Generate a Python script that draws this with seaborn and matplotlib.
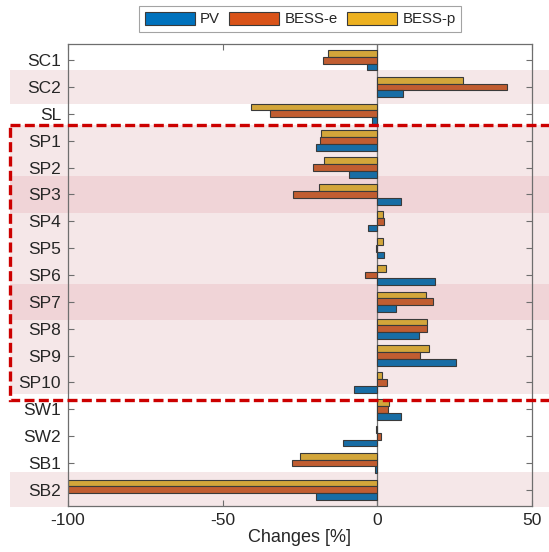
import numpy as np
import pandas as pd
import matplotlib
matplotlib.use("Agg")
import matplotlib.pyplot as plt
from matplotlib.patches import Rectangle, Patch
from matplotlib.transforms import blended_transform_factory
import seaborn as sns

# Scenario labels (top to bottom)
scenarios = ["SC1", "SC2", "SL", "SP1", "SP2", "SP3", "SP4", "SP5", "SP6",
             "SP7", "SP8", "SP9", "SP10", "SW1", "SW2", "SB1", "SB2"]

# Relative changes [%] per technology
pv = [-3.1, 8.5, -1.7, -19.6, -9.1, 7.9, -2.8, 2.3, 18.8,
      6.2, 13.7, 25.7, -7.5, 7.7, -10.9, -0.6, -19.6]
bess_e = [-17.5, 42.1, -34.7, -18.5, -20.7, -27.2, 2.4, -0.2, -3.9,
          18.1, 16.3, 13.9, 3.3, 3.5, 1.4, -27.5, -100.0]
bess_p = [-15.9, 27.8, -40.9, -18.1, -17.2, -18.8, 1.9, 1.9, 2.9,
          15.8, 16.2, 16.9, 1.6, 3.9, -0.3, -25.0, -100.0]

series = ["PV", "BESS-e", "BESS-p"]
colors = {"PV": "#0072BD", "BESS-e": "#D95319", "BESS-p": "#EDB120"}
xticks = [-100, -50, 0, 50]

df = pd.DataFrame({
    "Scenario": scenarios * 3,
    "Change": pv + bess_e + bess_p,
    "Series": ["PV"] * len(pv) + ["BESS-e"] * len(bess_e) + ["BESS-p"] * len(bess_p),
})

sns.set_style("ticks")
plt.rcParams["font.family"] = ["Liberation Sans", "DejaVu Sans"]

W, H = 549, 552
fig = plt.figure(figsize=(W / 100, H / 100), dpi=100)
ax = fig.add_axes([68 / W, 1 - 506 / H, (531.5 - 68) / W, (506 - 44) / H])

sns.barplot(data=df, x="Change", y="Scenario", hue="Series",
            hue_order=["BESS-p", "BESS-e", "PV"], order=scenarios,
            palette=colors, orient="h", width=0.76, gap=0,
            edgecolor="#3a3a3a", linewidth=0.8, legend=False, ax=ax, zorder=2)

ax.set_xlim(-100, 50)
ax.set_ylim(16.6, -0.6)
ax.set_xticks(xticks)
ax.set_xticklabels([str(t) for t in xticks])
ax.set_ylabel("")
ax.set_xlabel("Changes [%]", fontsize=13, color="#262626", labelpad=1)
ax.axvline(0, color="#707070", lw=0.9, zorder=1.5)

spine_c = "#6e6e6e"
for s in ax.spines.values():
    s.set_color(spine_c)
    s.set_linewidth(0.9)
ax.tick_params(direction="in", top=True, right=True, length=4.3, width=0.8,
               color=spine_c, labelsize=12.5, labelcolor="#262626", pad=5)
ax.tick_params(axis="x", pad=5)

# Highlight bands spanning the full figure width
tr = blended_transform_factory(fig.transFigure, ax.transData)
x0 = 10 / W
light = "#F5E7E8"
dark = "#F0D4D7"
bands = [(0.35, 1.65, light), (2.42, 12.43, light), (4.32, 5.68, dark),
         (8.32, 9.68, dark), (15.35, 16.65, light)]
for lo, hi, c in bands:
    ax.add_patch(Rectangle((x0, lo), 1.0 - x0, hi - lo, transform=tr,
                           facecolor=c, edgecolor="none", clip_on=False, zorder=0.2))

# Dashed outline around the SP scenarios
ax.add_patch(Rectangle((x0, 2.42), 1.05, 12.65 - 2.42, transform=tr,
                       fill=False, edgecolor="#CC0000", lw=2.4,
                       linestyle=(0, (3.0, 1.3)), clip_on=False, zorder=5))

handles = [Patch(facecolor=colors[s], edgecolor="#3a3a3a", linewidth=0.8) for s in series]
leg = fig.legend(handles, series, loc="center", bbox_to_anchor=(300 / W, 1 - 19 / H),
                 ncol=3, frameon=True, fancybox=False, fontsize=10.8,
                 handlelength=3.35, handleheight=1.0, handletextpad=0.35,
                 columnspacing=0.6, borderpad=0.35, borderaxespad=0)
leg.get_frame().set_edgecolor("#8c8c8c")
leg.get_frame().set_linewidth(0.8)
for t in leg.get_texts():
    t.set_color("#262626")

fig.savefig("out.png", dpi=100)
